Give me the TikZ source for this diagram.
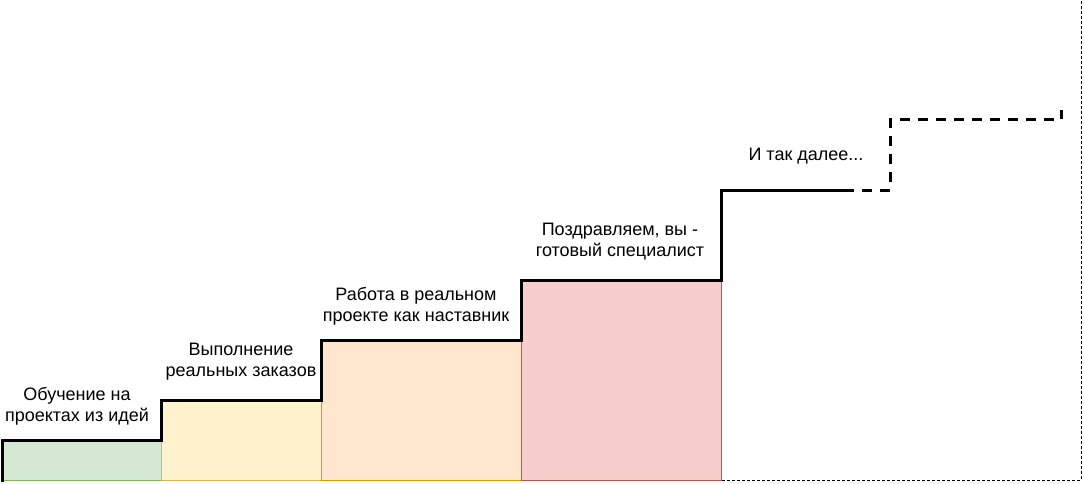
\documentclass[tikz,border=0pt]{standalone}
\usepackage{fontspec}
\setmainfont{Liberation Sans}
\begin{document}
\begin{tikzpicture}[x=1pt,y=-1pt,
  box/.style={draw, line width=1pt, inner sep=0pt, outer sep=0pt, anchor=center},
  lbl/.style={align=center, font=\fontsize{18}{21}\selectfont, text=black, inner sep=0pt},
  stair/.style={line width=3pt, line join=miter, line cap=butt, draw=black},
  stairdash/.style={stair, dash pattern=on 10pt off 8pt, dash phase=8pt},
  frame/.style={line width=1pt, dash pattern=on 3pt off 2pt, draw=black}
]
\definecolor{gfill}{HTML}{D5E8D4}\definecolor{gline}{HTML}{82B366}
\definecolor{yfill}{HTML}{FFF2CC}\definecolor{yline}{HTML}{D6B656}
\definecolor{ofill}{HTML}{FFE6CC}\definecolor{oline}{HTML}{D79B00}
\definecolor{rfill}{HTML}{F8CECC}\definecolor{rline}{HTML}{B85450}
\useasboundingbox (0,0) rectangle (1084,484);
\fill[white] (0,0) rectangle (1084,484);

\node[box, fill=gfill, draw=gline, minimum width=159pt, minimum height=40pt] (g) at (81.5,460) {};
\node[box, fill=yfill, draw=yline, minimum width=160pt, minimum height=80pt] (y) at (241,440) {};
\node[box, fill=ofill, draw=oline, minimum width=200pt, minimum height=140pt] (o) at (421,410) {};
\node[box, fill=rfill, draw=rline, minimum width=200pt, minimum height=200pt] (r) at (621,380) {};

\coordinate (fbl) at (722,480);
\coordinate (fbr) at (1081,480);
\coordinate (ftr) at (1081,0);
\draw[frame] (fbl) -- (fbr) -- (ftr);

\coordinate (c1) at (721,190);
\coordinate (c2) at (852,190);
\coordinate (c3) at (890,190);
\coordinate (c4) at (890,120);
\coordinate (c5) at (1061,120);
\coordinate (c6) at (1061,110);
\coordinate (s0) at (2,481.5);
\draw[stair] (s0) -- (g.north west) -- (g.north east) -- (y.north west) -- (y.north east)
  -- (o.north west) -- (o.north east) -- (r.north west) -- (r.north east) -- (c1) -- (c2);
\draw[stairdash] (c2) -- (c3) -- (c4) -- (c5) -- (c6);

\node[lbl] (t1) at (77,406) {Обучение на\\проектах из идей};
\node[lbl] (t2) at (241,362) {Выполнение\\реальных заказов};
\node[lbl] (t3) at (416,306) {Работа в реальном\\проекте как наставник};
\node[lbl] (t4) at (620,242) {Поздравляем, вы -\\готовый специалист};
\node[lbl] (t5) at (806,156) {И так далее...};
\end{tikzpicture}
\end{document}
